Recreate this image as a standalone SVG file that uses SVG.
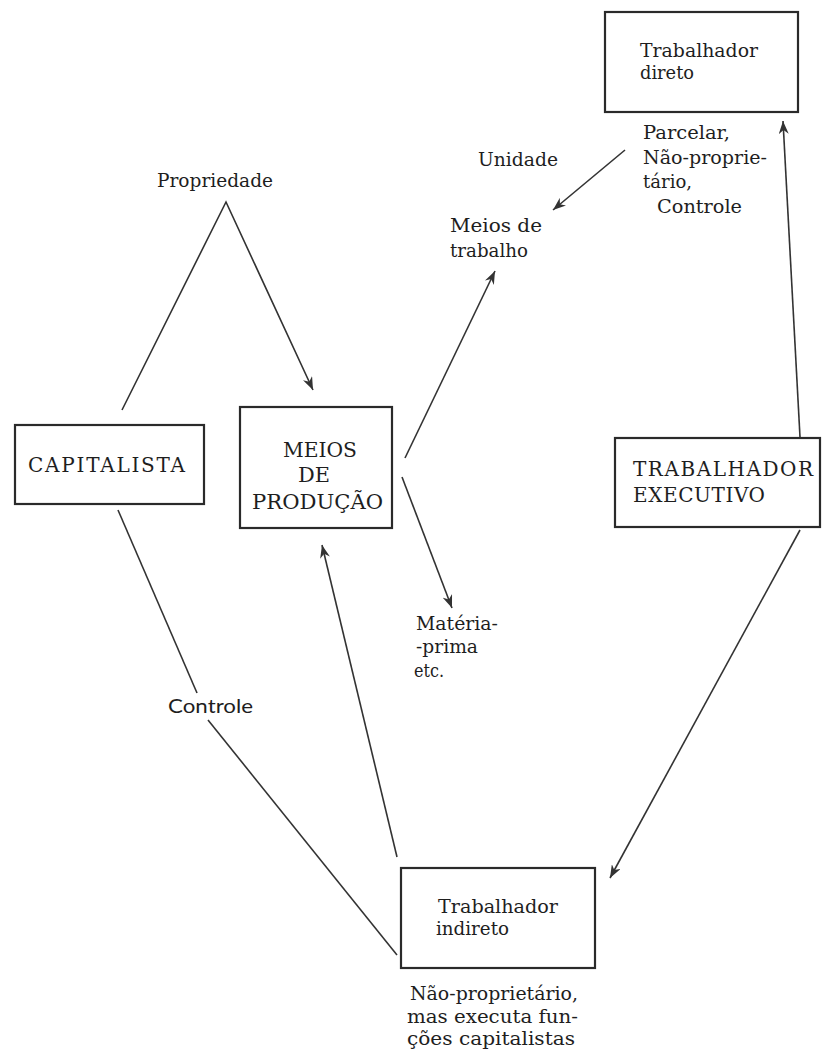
<svg xmlns="http://www.w3.org/2000/svg" width="822" height="1054" viewBox="0 0 822 1054">
<defs>
<style>
.bg{fill:#ffffff}
.box{fill:none;stroke:#2a2a2a;stroke-width:2.2}
.conn{fill:none;stroke:#333333;stroke-width:1.6}
.t{font-family:"DejaVu Serif","Liberation Serif",serif;font-size:19px;fill:#1e1e1e}
.caps{font-family:"DejaVu Serif","Liberation Serif",serif;font-size:20px;fill:#1e1e1e}
.big{font-family:"DejaVu Serif","Liberation Serif",serif;font-size:20px;fill:#1e1e1e}
.sans{font-family:Lato,"DejaVu Sans",sans-serif;font-size:20px;fill:#1e1e1e}
</style>
<marker id="ah" markerUnits="userSpaceOnUse" markerWidth="14" markerHeight="10" refX="13" refY="5" orient="auto">
<path d="M0,0 L13,5 L0,10 L4,5 Z" fill="#333333"/>
</marker>
</defs>
<rect class="bg" x="0" y="0" width="822" height="1054"/>

<g id="connectors">
<path class="conn" d="M122,410 L226,202 L313,390" marker-end="url(#ah)"/>
<path class="conn" d="M625,150 L553,210" marker-end="url(#ah)"/>
<path class="conn" d="M405,458 L495,271" marker-end="url(#ah)"/>
<path class="conn" d="M402,477 L452,608" marker-end="url(#ah)"/>
<path class="conn" d="M118,510 L197,693"/>
<path class="conn" d="M208,720 L397,955"/>
<path class="conn" d="M397,857 L322,545" marker-end="url(#ah)"/>
<path class="conn" d="M800,437 L783,121" marker-end="url(#ah)"/>
<path class="conn" d="M800,530 L610,878" marker-end="url(#ah)"/>
</g>

<g id="trabalhador-direto">
<rect class="box" x="605" y="12" width="193" height="100"/>
<text class="t" x="640" y="57" textLength="118" lengthAdjust="spacingAndGlyphs">Trabalhador</text>
<text class="t" x="640" y="79" textLength="54" lengthAdjust="spacingAndGlyphs">direto</text>
</g>

<g id="label-parcelar">
<text class="t" x="643" y="139" textLength="87" lengthAdjust="spacingAndGlyphs">Parcelar,</text>
<text class="t" x="643" y="164" textLength="124" lengthAdjust="spacingAndGlyphs">Não-proprie-</text>
<text class="t" x="643" y="188" textLength="49" lengthAdjust="spacingAndGlyphs">tário,</text>
<text class="t" x="657" y="213" textLength="85" lengthAdjust="spacingAndGlyphs">Controle</text>
</g>

<g id="label-unidade">
<text class="t" x="478" y="166" textLength="80" lengthAdjust="spacingAndGlyphs">Unidade</text>
</g>

<g id="meios-de-trabalho">
<text class="t" x="450" y="232" textLength="92" lengthAdjust="spacingAndGlyphs">Meios de</text>
<text class="t" x="450" y="257" textLength="78" lengthAdjust="spacingAndGlyphs">trabalho</text>
</g>

<g id="label-propriedade">
<text class="t" x="157" y="187" textLength="116" lengthAdjust="spacingAndGlyphs">Propriedade</text>
</g>

<g id="capitalista">
<rect class="box" x="15" y="425" width="189" height="79"/>
<text class="caps" x="28" y="472" textLength="157">CAPITALISTA</text>
</g>

<g id="meios-de-producao">
<rect class="box" x="240" y="407" width="152" height="121"/>
<text class="big" x="283" y="457" textLength="74" lengthAdjust="spacingAndGlyphs">MEIOS</text>
<text class="big" x="298" y="482" textLength="32" lengthAdjust="spacingAndGlyphs">DE</text>
<text class="big" x="252" y="509" textLength="131" lengthAdjust="spacingAndGlyphs">PRODUÇÃO</text>
</g>

<g id="materia-prima">
<text class="t" x="416" y="630" textLength="82" lengthAdjust="spacingAndGlyphs">Matéria-</text>
<text class="t" x="416" y="653" textLength="62" lengthAdjust="spacingAndGlyphs">-prima</text>
<text class="t" x="414" y="677" textLength="30" lengthAdjust="spacingAndGlyphs">etc.</text>
</g>

<g id="label-controle">
<text class="sans" x="168" y="713" textLength="85" lengthAdjust="spacingAndGlyphs">Controle</text>
</g>

<g id="trabalhador-executivo">
<rect class="box" x="615" y="438" width="205" height="89"/>
<text class="caps" x="633" y="476" textLength="180">TRABALHADOR</text>
<text class="caps" x="633" y="502" textLength="132">EXECUTIVO</text>
</g>

<g id="trabalhador-indireto">
<rect class="box" x="401" y="868" width="194" height="100"/>
<text class="t" x="438" y="913" textLength="120" lengthAdjust="spacingAndGlyphs">Trabalhador</text>
<text class="t" x="436" y="935" textLength="73" lengthAdjust="spacingAndGlyphs">indireto</text>
</g>

<g id="label-nao-proprietario">
<text class="t" x="410" y="1000" textLength="168" lengthAdjust="spacingAndGlyphs">Não-proprietário,</text>
<text class="t" x="407" y="1023" textLength="171" lengthAdjust="spacingAndGlyphs">mas executa fun-</text>
<text class="t" x="407" y="1045" textLength="168" lengthAdjust="spacingAndGlyphs">ções capitalistas</text>
</g>
</svg>
